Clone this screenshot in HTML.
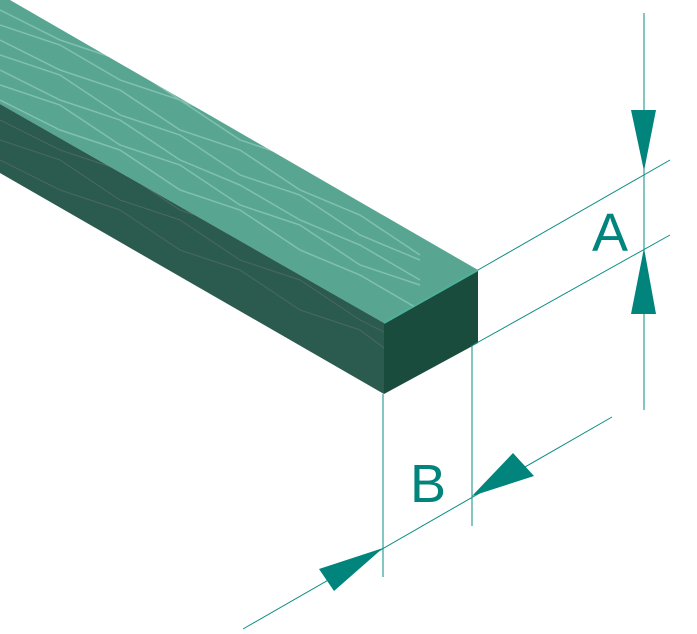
<!DOCTYPE html>
<html><head><style>
html,body{margin:0;padding:0;background:#fff;width:697px;height:634px;overflow:hidden}
svg{display:block}
</style></head><body>
<svg width="697" height="634" viewBox="0 0 697 634" xmlns="http://www.w3.org/2000/svg">
<defs>
<clipPath id="ct"><polygon points="0,0 10,0 478,270 384,323 0,104"/></clipPath>
<clipPath id="cs"><polygon points="0,104 384,323 384,394 0,173"/></clipPath>
</defs>
<!-- beam -->
<polygon points="0,0 10,0 478,270 384,323 0,104" fill="#58a692"/>
<polygon points="0,104 384,323 384,394 0,173" fill="#2b5b4e"/>
<polygon points="384,323 478,270 478,343 384,394" fill="#1a4c3e"/>
<line x1="384" y1="323" x2="478" y2="270" stroke="#4fb19a" stroke-width="2"/>
<g clip-path="url(#ct)" stroke="#b5e0d3" stroke-width="1.5" fill="none" opacity="0.45">
<path d="M0,10 L60,40 L120,60 L180,100 L240,125 L300,165 L360,190 L420,230 L480,250"/>
<path d="M0,25 L60,45 L120,80 L180,100 L240,140 L300,160 L360,200 L420,220 L480,260"/>
<path d="M0,40 L60,70 L120,90 L180,130 L240,150 L300,190 L360,215 L420,255"/>
<path d="M0,55 L60,75 L120,115 L180,135 L240,175 L300,195 L360,235 L420,260"/>
<path d="M0,70 L60,100 L120,120 L180,160 L240,185 L300,220 L360,245 L420,280"/>
<path d="M0,85 L60,105 L120,145 L180,165 L240,205 L300,225 L360,265 L420,285"/>
<path d="M0,100 L60,130 L120,150 L180,190 L240,210 L300,250 L360,275 L420,310"/>
</g>
<g clip-path="url(#cs)" stroke="#6d7570" stroke-width="1" fill="none" opacity="0.5">
<path d="M0,120 L60,150 L120,170 L180,210 L240,230 L300,270 L360,290 L400,320"/>
<path d="M0,140 L60,160 L120,200 L180,220 L240,260 L300,280 L360,320 L400,340"/>
<path d="M0,160 L60,190 L120,210 L180,250 L240,270 L300,310 L360,330 L400,360"/>
</g>
<!-- dimension lines -->
<g stroke="#0a8c84" stroke-width="1" fill="none">
<line x1="644" y1="13" x2="644" y2="410"/>
<line x1="478" y1="270" x2="670" y2="160"/>
<line x1="473" y1="345" x2="670" y2="235"/>
<line x1="383" y1="394" x2="383" y2="577"/>
<line x1="472" y1="345" x2="472" y2="526"/>
<line x1="243" y1="629" x2="612" y2="417"/>
</g>
<g fill="#00847c">
<polygon points="631,110 656,110 644,171"/>
<polygon points="631,314 656,314 644,248"/>
<polygon points="383,548 319,569 334,591"/>
<polygon points="472,496 513,453 534,476"/>
</g>
<g font-family="Liberation Sans, sans-serif" fill="#00847c" font-size="54">
<text x="592" y="251">A</text>
<text x="410" y="502">B</text>
</g>
</svg>
</body></html>
